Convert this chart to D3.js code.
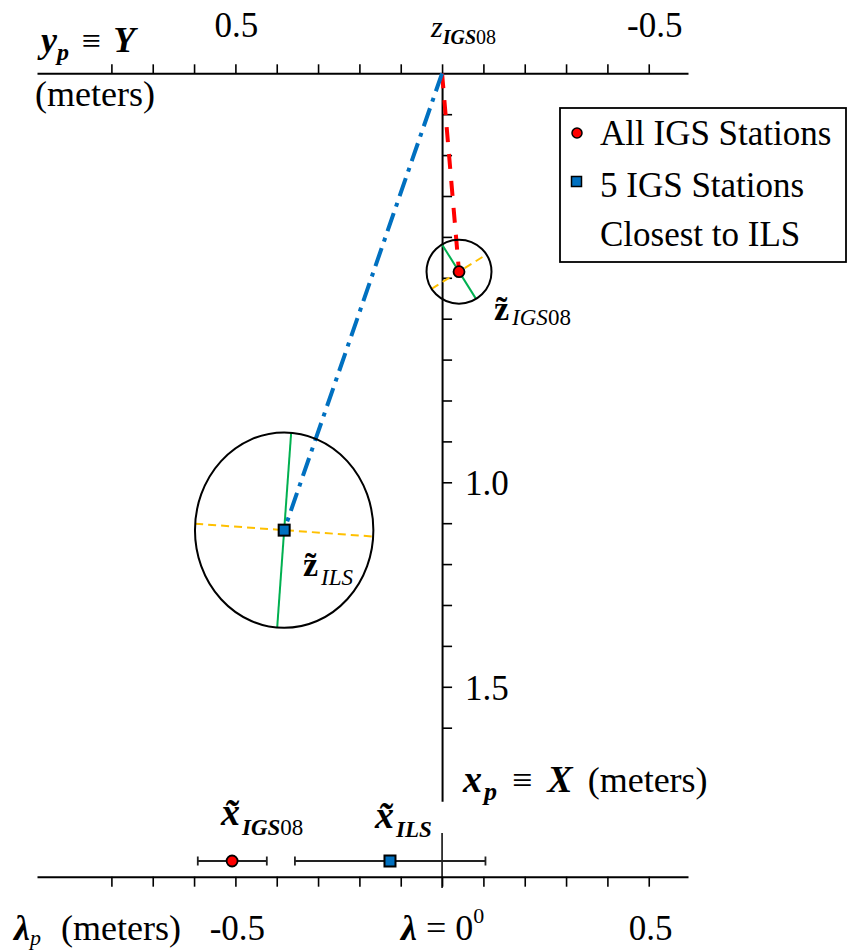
<!DOCTYPE html>
<html>
<head>
<meta charset="utf-8">
<script src="https://cdn.jsdelivr.net/npm/d3@7"></script>
<style>html,body{margin:0;background:#fff}</style>
</head>
<body>
<script>
// ---------------- data ----------------
// top axis: y_p ≡ Y (meters), positive to the left
const topTicks = [0.8, 0.7, 0.6, 0.5, 0.4, 0.3, 0.2, 0.1, 0, -0.1, -0.2, -0.3, -0.4, -0.5];
const topLabels = [0.5, -0.5];
// vertical axis: x_p ≡ X (meters), positive downward
const sideTicks = [0.1, 0.2, 0.3, 0.4, 0.5, 0.6, 0.7, 0.8, 0.9, 1.0, 1.1, 1.2, 1.3, 1.4, 1.5, 1.6];
const sideLabels = [1.0, 1.5];
// bottom axis: λ_p (meters)
const botTicks = [-0.8, -0.7, -0.6, -0.5, -0.4, -0.3, -0.2, -0.1, 0, 0.1, 0.2, 0.3, 0.4, 0.5];
const botLabels = [-0.5, 0.5];

// solutions (Y, X) and error ellipses
const solNames = ["IGS08", "ILS"];
const solY = [-0.041, 0.382];          // meters (Y)
const solX = [0.485, 1.117];           // meters (X)
const ellSemiY = [0.0786, 0.2158];     // semi-axis along Y (meters)
const ellSemiX = [0.0782, 0.2389];     // semi-axis along X (meters)
const ellAngle = [58, 94.1];           // direction of the green axis (deg, screen)

// longitude solutions (λ) with error bars
const lamMean = [-0.508, -0.126];
const lamLow  = [-0.591, -0.356];
const lamHigh = [-0.424, 0.105];

const legendItems = ["All IGS Stations", "5 IGS Stations", "Closest to ILS"];

// ---------------- setup ----------------
const W = 854, H = 951;
const FONT = '"Liberation Serif"';
const RED = "#ff0000", BLUE = "#0070c0", GREEN = "#00b050", ORANGE = "#ffc000";
const fmt = v => d3.format(".1f")(v).replace("\u2212", "-");

const svg = d3.select("body").append("svg").attr("width", W).attr("height", H);

const xTop = d3.scaleLinear().domain([0.98, -0.595]).range([37, 688]);
const yS   = d3.scaleLinear().domain([0, 1.78]).range([73.3, 801.3]);
const xBot = d3.scaleLinear().domain([-0.98, 0.595]).range([37, 688]);

const topY = yS(0);
const axisX = xTop(0);
const botY = 876.7;

function styleAxis(g) {
  g.attr("font-family", null).attr("font-size", null);
  g.selectAll(".tick text").remove();
  g.select(".domain").attr("stroke", "#000").attr("stroke-width", 2);
  g.selectAll(".tick line").attr("stroke", "#000").attr("stroke-width", 1.6);
}

svg.append("g").attr("transform", `translate(0,${topY})`)
  .call(d3.axisTop(xTop).tickValues(topTicks).tickSize(9).tickSizeOuter(0).tickFormat(""))
  .call(styleAxis);
svg.append("g").attr("transform", `translate(${axisX},0)`)
  .call(d3.axisRight(yS).tickValues(sideTicks).tickSize(10).tickSizeOuter(0).tickFormat(""))
  .call(styleAxis);
svg.append("g").attr("transform", `translate(0,${botY})`)
  .call(d3.axisBottom(xBot).tickValues(botTicks).tickSize(10).tickSizeOuter(0).tickFormat(""))
  .call(styleAxis);

function rich(x, y, parts, anchor) {
  const t = svg.append("text").attr("x", x).attr("y", y)
    .attr("text-anchor", anchor || "start")
    .attr("font-size", 36)
    .style("font-family", FONT);
  let cur = 0;
  parts.forEach(p => {
    const sh = p.sh || 0;
    const ts = t.append("tspan").attr("dy", sh - cur).attr("dx", p.dx || 0)
      .attr("font-size", p.s || 36);
    if (p.b) ts.attr("font-weight", "bold");
    if (p.i) ts.attr("font-style", "italic");
    ts.text(p.t);
    cur = sh;
  });
  return t;
}
function txt(x, y, s, size, anchor) {
  return svg.append("text").attr("x", x).attr("y", y)
    .attr("text-anchor", anchor || "start")
    .attr("font-size", size)
    .style("font-family", FONT).text(s);
}

// tick labels
topLabels.forEach(v => txt(xTop(v) + (v < 0 ? 6 : 1), 37, fmt(v), 35, "middle"));
sideLabels.forEach(v => txt(axisX + 23, yS(v) + 13, fmt(v), 35));
botLabels.forEach(v => txt(xBot(v) + 2, 940, fmt(v), 35, "middle"));

// axis titles
rich(41, 52, [
  {t: "y", b: 1, i: 1, s: 36},
  {t: "p", b: 1, i: 1, s: 24, sh: 8},
  {t: " \u2261 ", s: 34, sh: 0, dx: 4},
  {t: "Y", b: 1, i: 1, s: 36, dx: 4}
]);
txt(35, 106, "(meters)", 36);
rich(431, 37, [
  {t: "z", i: 1, s: 30},
  {t: "IGS", b: 1, i: 1, s: 20, sh: 7},
  {t: "08", s: 20, sh: 7}
]);
rich(463, 792, [
  {t: "x", b: 1, i: 1, s: 38},
  {t: "p", b: 1, i: 1, s: 26, sh: 8, dx: 2},
  {t: " \u2261 ", s: 36, sh: 0, dx: 6},
  {t: "X", b: 1, i: 1, s: 38, dx: 6},
  {t: " (meters)", s: 36, dx: 6}
]);
rich(14, 940, [
  {t: "\u03bb", b: 1, i: 1, s: 36},
  {t: "p", i: 1, s: 22, sh: 5}
]);
txt(61, 940, "(meters)", 36);
rich(401, 940, [
  {t: "\u03bb", b: 1, i: 1, s: 36},
  {t: " = 0", s: 36},
  {t: "0", s: 22, sh: -17}
]);

// lines from origin to solutions
const ox = xTop(0), oy = yS(0);
const lineStyles = [
  {c: RED, dash: "15,12"},
  {c: BLUE, dash: "19,7,4,7"}
];
solNames.forEach((n, i) => {
  svg.append("line")
    .attr("x1", ox).attr("y1", oy)
    .attr("x2", xTop(solY[i])).attr("y2", yS(solX[i]))
    .attr("stroke", lineStyles[i].c).attr("stroke-width", 4)
    .attr("stroke-dasharray", lineStyles[i].dash);
});

// error ellipses with axes
solNames.forEach((n, i) => {
  const cx = xTop(solY[i]), cy = yS(solX[i]);
  const rx = Math.abs(xTop(ellSemiY[i]) - xTop(0));
  const ry = Math.abs(yS(ellSemiX[i]) - yS(0));
  const g = svg.append("g");
  function axisSeg(deg) {
    const a = deg * Math.PI / 180, c = Math.cos(a), s = Math.sin(a);
    const t = 1 / Math.sqrt((c / rx) ** 2 + (s / ry) ** 2);
    return [cx - t * c, cy - t * s, cx + t * c, cy + t * s];
  }
  const gS = axisSeg(ellAngle[i]);
  const oS = axisSeg(ellAngle[i] - 90);
  g.append("line").attr("x1", oS[0]).attr("y1", oS[1]).attr("x2", oS[2]).attr("y2", oS[3])
    .attr("stroke", ORANGE).attr("stroke-width", 2).attr("stroke-dasharray", "8,5");
  g.append("line").attr("x1", gS[0]).attr("y1", gS[1]).attr("x2", gS[2]).attr("y2", gS[3])
    .attr("stroke", GREEN).attr("stroke-width", 2);
  g.append("ellipse").attr("cx", cx).attr("cy", cy).attr("rx", rx).attr("ry", ry)
    .attr("fill", "none").attr("stroke", "#000").attr("stroke-width", 2);
});

function redDot(x, y, r) {
  svg.append("circle").attr("cx", x).attr("cy", y).attr("r", r)
    .attr("fill", RED).attr("stroke", "#000").attr("stroke-width", 1.8);
}
function blueSq(x, y, s) {
  svg.append("rect").attr("x", x - s / 2).attr("y", y - s / 2).attr("width", s).attr("height", s)
    .attr("fill", BLUE).attr("stroke", "#000").attr("stroke-width", 2);
}
redDot(xTop(solY[0]), yS(solX[0]), 5.5);
blueSq(xTop(solY[1]), yS(solX[1]), 11);

// ellipse labels
rich(494, 320, [
  {t: "z\u0303", b: 1, s: 34},
  {t: "IGS", i: 1, s: 23, sh: 5, dx: 3},
  {t: "08", s: 23, sh: 5}
]);
rich(303, 576, [
  {t: "z\u0303", b: 1, s: 34},
  {t: "ILS", i: 1, s: 23, sh: 9, dx: 3}
]);

// bottom λ row
const rowY = 861;
svg.append("line").attr("x1", xBot(0)).attr("x2", xBot(0)).attr("y1", 833).attr("y2", 888)
  .attr("stroke", "#000").attr("stroke-width", 1.5);
solNames.forEach((n, i) => {
  const g = svg.append("g").attr("stroke", "#222").attr("stroke-width", 1.8);
  g.append("line").attr("x1", xBot(lamLow[i])).attr("x2", xBot(lamHigh[i])).attr("y1", rowY).attr("y2", rowY);
  [lamLow[i], lamHigh[i]].forEach(v => {
    g.append("line").attr("x1", xBot(v)).attr("x2", xBot(v)).attr("y1", rowY - 4.5).attr("y2", rowY + 4.5);
  });
});
redDot(xBot(lamMean[0]), rowY, 5.5);
blueSq(xBot(lamMean[1]), rowY, 11);

rich(221, 825, [
  {t: "x\u0303", b: 1, i: 1, s: 38},
  {t: "IGS", b: 1, i: 1, s: 23, sh: 10, dx: 2},
  {t: "08", s: 23, sh: 10}
]);
rich(375, 828, [
  {t: "x\u0303", b: 1, i: 1, s: 38},
  {t: "ILS", b: 1, i: 1, s: 23, sh: 9, dx: 2}
]);

// legend
svg.append("rect").attr("x", 560).attr("y", 108).attr("width", 286).attr("height", 154)
  .attr("fill", "#fff").attr("stroke", "#000").attr("stroke-width", 1.8);
svg.append("circle").attr("cx", 577).attr("cy", 133).attr("r", 5)
  .attr("fill", RED).attr("stroke", "#000").attr("stroke-width", 1.5);
svg.append("rect").attr("x", 571.5).attr("y", 176.5).attr("width", 10).attr("height", 10)
  .attr("fill", BLUE).attr("stroke", "#000").attr("stroke-width", 1.5);
const legY = [145, 197, 246];
legendItems.forEach((t, i) => txt(600, legY[i], t, 35));
</script>
</body>
</html>
